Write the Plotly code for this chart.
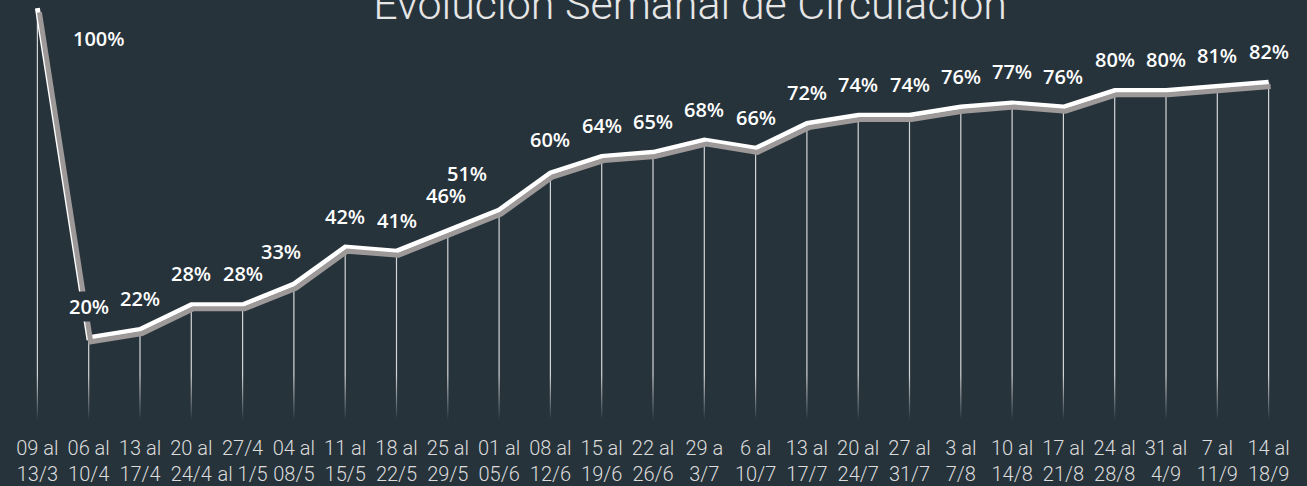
import plotly.graph_objects as go

# ---- data ----
week_start = ["09 al", "06 al", "13 al", "20 al", "27/4", "04 al", "11 al", "18 al", "25 al",
              "01 al", "08 al", "15 al", "22 al", "29 a", "6 al", "13 al", "20 al", "27 al",
              "3 al", "10 al", "17 al", "24 al", "31 al", "7 al", "14 al"]
week_end = ["13/3", "10/4", "17/4", "24/4", "al 1/5", "08/5", "15/5", "22/5", "29/5",
            "05/6", "12/6", "19/6", "26/6", "3/7", "10/7", "17/7", "24/7", "31/7",
            "7/8", "14/8", "21/8", "28/8", "4/9", "11/9", "18/9"]
circulacion = [100, 20, 22, 28, 28, 33, 42, 41, 46, 51, 60, 64, 65, 68, 66, 72, 74, 74,
               76, 77, 76, 80, 80, 81, 82]

tick_text = [f"{a}<br>{b}" for a, b in zip(week_start, week_end)]
idx = list(range(len(circulacion)))

BG = "#27333b"
THIN_FONT = "Roboto, Liberation Sans Narrow, DejaVu Sans Condensed, sans-serif"

fig = go.Figure()

# vertical drop lines from each point to the base
fig.add_trace(go.Scatter(
    x=idx, y=circulacion, mode="markers", marker=dict(size=1, color="rgba(0,0,0,0)"),
    error_y=dict(type="data", symmetric=False, array=[0] * len(circulacion),
                 arrayminus=circulacion, width=0, thickness=1.2,
                 color="rgba(255,255,255,0.8)"),
    hoverinfo="skip", showlegend=False))

# fade of drop lines at the bottom
fig.add_trace(go.Scatter(
    x=[-0.5, 24.5, 24.5, -0.5, -0.5], y=[0, 0, 11, 11, 0], mode="lines",
    line=dict(width=0), fill="toself",
    fillgradient=dict(type="vertical",
                      colorscale=[[0, "rgba(39,51,59,1)"], [1, "rgba(39,51,59,0)"]]),
    hoverinfo="skip", showlegend=False))

# shadow line (on shifted axes)
fig.add_trace(go.Scatter(
    x=idx, y=circulacion, mode="lines", xaxis="x2", yaxis="y2",
    line=dict(color="#9d9999", width=5), hoverinfo="skip", showlegend=False,
    cliponaxis=False))

# main line
fig.add_trace(go.Scatter(
    x=idx, y=circulacion, mode="lines", line=dict(color="#ffffff", width=5),
    showlegend=False, cliponaxis=False))

# value labels
special = {0: (62, -30), 5: (-13, 33), 9: (-32, 37), 8: (-2, 35), 10: (0, 33)}
for i, v in enumerate(circulacion):
    xs, ys = special.get(i, (0, 31))
    fig.add_annotation(x=i, y=v, text=f"{v}%", showarrow=False, xshift=xs, yshift=ys,
                       font=dict(family="Open Sans, sans-serif", size=20, color="#ffffff",
                                 weight=600),
                       bgcolor=BG, borderpad=1)

fig.update_layout(
    width=1307, height=486,
    paper_bgcolor=BG, plot_bgcolor=BG,
    margin=dict(l=22, r=23, t=0, b=66),
    title=dict(text="Evolución Semanal de Circulación", x=0.528, xanchor="center",
               y=0.992, yanchor="middle", yref="container",
               font=dict(family=THIN_FONT, size=43, color="#e6e6e6", weight=300)),
    xaxis=dict(range=[-0.3, 24.3], tickmode="array", tickvals=idx, ticktext=tick_text,
               showgrid=False, zeroline=False, showline=False, ticks="",
               tickfont=dict(family=THIN_FONT, size=20, color="#dcdcdc", weight=300),
               ticklabelstandoff=14, fixedrange=True),
    xaxis2=dict(range=[-0.34, 24.26], overlaying="x", visible=False, fixedrange=True),
    yaxis=dict(range=[0, 102], visible=False, fixedrange=True),
    yaxis2=dict(range=[1, 103], overlaying="y", visible=False, fixedrange=True),
)

fig.write_html("out.html", config={"displayModeBar": False},
               post_script="document.body.style.margin='0';document.body.style.padding='0';"
                           "document.body.style.background='" + BG + "';")
